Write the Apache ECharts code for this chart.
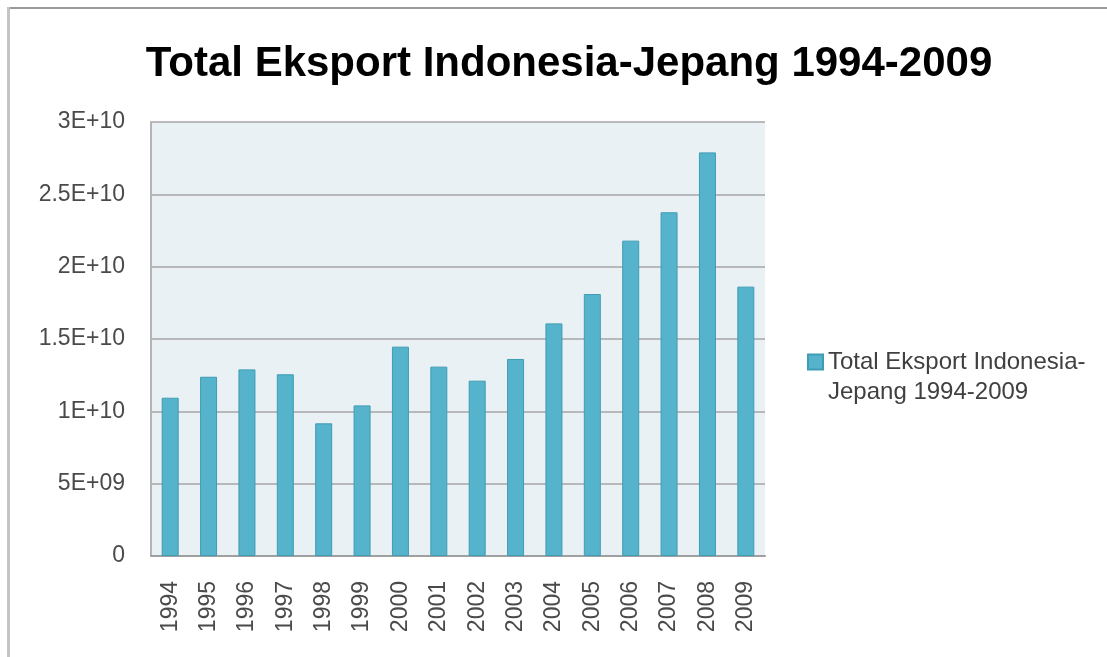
<!DOCTYPE html>
<html>
<head>
<meta charset="utf-8">
<title>Total Eksport Indonesia-Jepang 1994-2009</title>
<script src="https://cdn.jsdelivr.net/npm/echarts@6/dist/echarts.min.js"></script>
<style>
  html, body { margin: 0; padding: 0; background: #ffffff; }
  #chart { width: 1107px; height: 657px; }
</style>
</head>
<body>
<div id="chart"></div>
<script>
// Years on the category axis
const years = ['1994', '1995', '1996', '1997', '1998', '1999', '2000', '2001',
               '2002', '2003', '2004', '2005', '2006', '2007', '2008', '2009'];

// Total exports Indonesia -> Japan (USD)
const exportValues = [1.094e10, 1.239e10, 1.290e10, 1.256e10, 0.917e10, 1.041e10,
                      1.447e10, 1.309e10, 1.212e10, 1.362e10, 1.608e10, 1.811e10,
                      2.180e10, 2.376e10, 2.790e10, 1.862e10];

const seriesName = 'Total Eksport Indonesia-Jepang 1994-2009';
const chartTitle = 'Total Eksport Indonesia-Jepang 1994-2009';

// Value-axis range
const yMin = 0;
const yMax = 3e10;
const yStep = 5e9;

// Spreadsheet-style scientific labels: 5E+09, 1.5E+10 ...
function sciLabel(v) {
  if (v === 0) return '0';
  const e = Math.floor(Math.log10(v) + 1e-9);
  const m = Math.round(v / Math.pow(10, e) * 100) / 100;
  return m + 'E+' + (e < 10 ? '0' + e : e);
}

const labelFont = "'Liberation Sans', Arial, sans-serif";
const chart = echarts.init(document.getElementById('chart'), null, { renderer: 'canvas' });

chart.setOption({
  backgroundColor: '#ffffff',
  animation: false,
  title: {
    text: chartTitle,
    left: 564,
    textAlign: 'center',
    top: 38,
    textStyle: {
      fontFamily: "'Liberation Sans', Arial, sans-serif",
      fontWeight: 'bold',
      fontSize: 42,
      color: '#000000'
    }
  },
  graphic: [
    { type: 'line', shape: { x1: 8, y1: 8, x2: 1107, y2: 8 },
      style: { stroke: '#9a9a9a', lineWidth: 2 }, silent: true },
    { type: 'line', shape: { x1: 8.5, y1: 7, x2: 8.5, y2: 657 },
      style: { stroke: '#c4c4c4', lineWidth: 3 }, silent: true }
  ],
  grid: {
    left: 151,
    right: 342,
    top: 122,
    bottom: 101,
    show: true,
    backgroundColor: '#e9f1f5',
    borderWidth: 0,
    containLabel: false
  },
  legend: {
    left: 802,
    top: 312,
    orient: 'vertical',
    icon: 'rect',
    itemWidth: 15,
    itemHeight: 15,
    // leading blank line keeps the marker level with the first text line
    formatter: function (name) { return '\n' + name.replace('Indonesia-', 'Indonesia-\n'); },
    textStyle: {
      fontFamily: labelFont,
      fontSize: 24,
      color: '#404040',
      lineHeight: 30
    }
  },
  xAxis: {
    type: 'category',
    data: years,
    axisLine: { show: true, lineStyle: { color: '#a0a0a0', width: 2 } },
    axisTick: { show: false },
    axisLabel: {
      rotate: 90,
      margin: 25,
      interval: 0,
      fontFamily: labelFont,
      fontSize: 23,
      color: '#4a4a4a'
    },
    splitLine: { show: false }
  },
  yAxis: {
    type: 'value',
    min: yMin,
    max: yMax,
    interval: yStep,
    axisLine: { show: true, lineStyle: { color: '#b4b4b4', width: 2 } },
    axisTick: { show: false },
    axisLabel: {
      margin: 26,
      fontFamily: labelFont,
      fontSize: 23,
      color: '#4a4a4a',
      formatter: sciLabel
    },
    splitLine: { show: true, lineStyle: { color: '#a4a4a4', width: 1.5 } }
  },
  series: [{
    name: seriesName,
    type: 'bar',
    data: exportValues,
    barWidth: 17,
    itemStyle: {
      color: '#55b3cb',
      borderColor: '#3f9cb3',
      borderWidth: 1
    }
  }]
});
</script>
</body>
</html>
